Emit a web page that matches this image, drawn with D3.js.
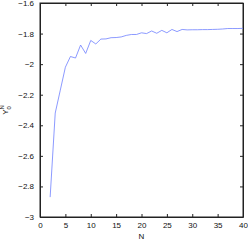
<!DOCTYPE html>
<html>
<head>
<meta charset="utf-8">
<script src="https://cdn.jsdelivr.net/npm/d3@7"></script>
<style>
  body { margin: 0; background: #fff; }
  svg { display: block; }
  text { font-family: "Liberation Sans", Arial, sans-serif; }
</style>
</head>
<body>
<div id="chart"></div>
<script>
// N values and the estimate Y_0^N
var nValues = [2, 3, 4, 5, 6, 7, 8, 9, 10, 11, 12, 13, 14, 15, 16, 17, 18, 19, 20, 21,
  22, 23, 24, 25, 26, 27, 28, 29, 30, 31, 32, 33, 34, 35, 36, 37, 38, 39, 40];
var yValues = [-2.87, -2.32, -2.17, -2.02, -1.95, -1.96, -1.875, -1.93, -1.845, -1.868,
  -1.836, -1.835, -1.827, -1.826, -1.822, -1.812, -1.806, -1.806, -1.795, -1.800,
  -1.783, -1.798, -1.779, -1.795, -1.773, -1.787, -1.773, -1.776, -1.775, -1.775,
  -1.774, -1.774, -1.773, -1.772, -1.770, -1.767, -1.767, -1.767, -1.766];
var xTicks = [0, 5, 10, 15, 20, 25, 30, 35, 40];
var yTicks = [-3, -2.8, -2.6, -2.4, -2.2, -2, -1.8, -1.6];

var width = 248, height = 240;
var margin = {top: 3, right: 5, bottom: 23, left: 40};
var w = width - margin.left - margin.right,
    h = height - margin.top - margin.bottom;

var svg = d3.select("#chart").append("svg")
  .attr("width", width)
  .attr("height", height);

var g = svg.append("g")
  .attr("transform", "translate(" + margin.left + "," + margin.top + ")");

var x = d3.scaleLinear().domain([0, 40]).range([0, w]);
var y = d3.scaleLinear().domain([-3, -1.6]).range([h, 0]);

var fmt = function(d) { return String(+d.toFixed(1)).replace("-", "\u2212"); };

// ticks pointing inward on all four sides, like matlab
g.append("g")
  .attr("transform", "translate(0," + h + ")")
  .call(d3.axisBottom(x).tickValues(xTicks).tickSizeInner(-3).tickSizeOuter(0).tickPadding(5).tickFormat(d3.format("d")));
g.append("g")
  .call(d3.axisTop(x).tickValues(xTicks).tickSizeInner(-3).tickSizeOuter(0).tickFormat(""));
g.append("g")
  .call(d3.axisLeft(y).tickValues(yTicks).tickSizeInner(-3).tickSizeOuter(0).tickPadding(6).tickFormat(fmt));
g.append("g")
  .attr("transform", "translate(" + w + ",0)")
  .call(d3.axisRight(y).tickValues(yTicks).tickSizeInner(-3).tickSizeOuter(0).tickFormat(""));

g.selectAll(".domain").attr("stroke", "#222");
g.selectAll(".tick line").attr("stroke", "#222");
g.selectAll(".tick text").attr("font-size", "8px").attr("fill", "#111")
  .attr("font-family", "Liberation Sans, Arial, sans-serif");

g.append("rect")
  .attr("width", w).attr("height", h)
  .attr("fill", "none").attr("stroke", "#222").attr("stroke-width", 1);

var pts = nValues.map(function(n, i) { return [n, yValues[i]]; });
var line = d3.line()
  .x(function(d) { return x(d[0]); })
  .y(function(d) { return y(d[1]); });

g.append("path")
  .datum(pts)
  .attr("fill", "none")
  .attr("stroke", "#6f80ff")
  .attr("stroke-width", 0.8)
  .attr("d", line);

// axis labels
svg.append("text")
  .attr("x", margin.left + w / 2)
  .attr("y", 239)
  .attr("text-anchor", "middle")
  .attr("font-size", "8px")
  .attr("fill", "#111")
  .text("N");

var yl = svg.append("text")
  .attr("transform", "translate(8," + (margin.top + h / 2) + ") rotate(-90)")
  .attr("text-anchor", "middle")
  .attr("font-size", "8px")
  .attr("fill", "#111");
yl.append("tspan").text("Y");
yl.append("tspan").attr("font-size", "6px").attr("dy", 3).text("0");
yl.append("tspan").attr("font-size", "6px").attr("dx", -3.4).attr("dy", -7).text("N");
</script>
</body>
</html>
